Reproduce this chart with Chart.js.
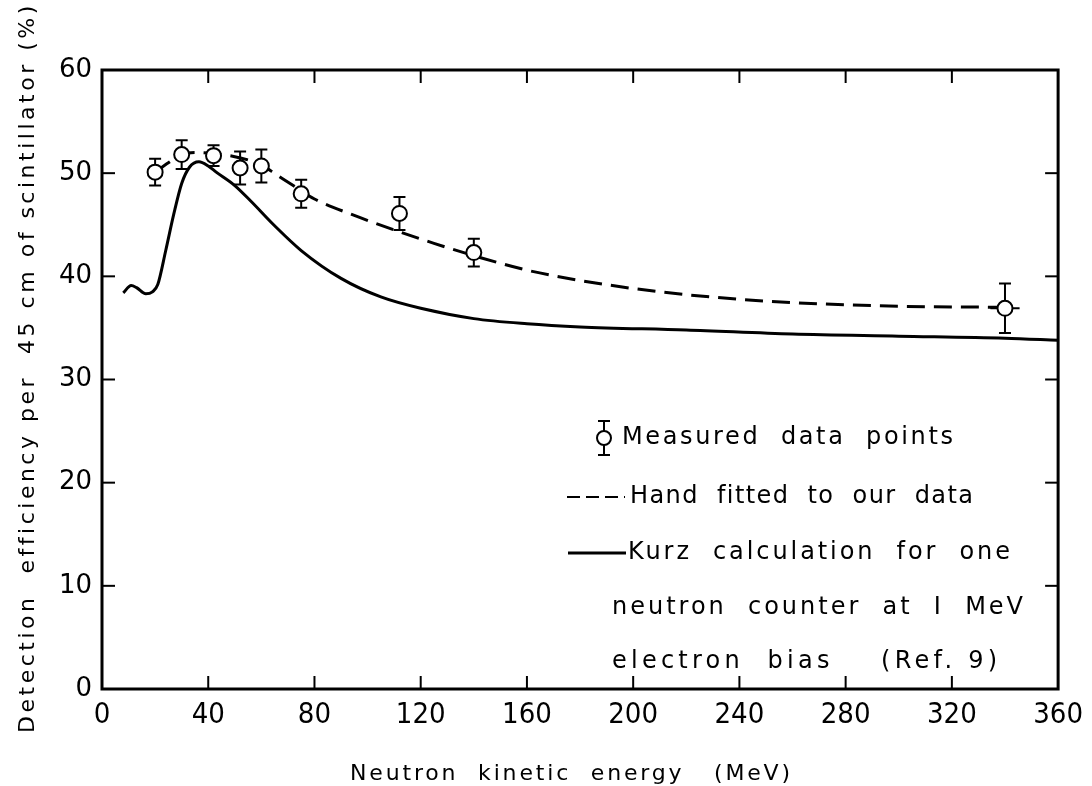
<!DOCTYPE html>
<html>
<head>
<meta charset="utf-8">
<script src="https://cdn.jsdelivr.net/npm/chart.js@4.4.1/dist/chart.umd.min.js"></script>
<style>
  html, body { margin: 0; padding: 0; background: #fff; }
  #wrap { width: 1092px; height: 786px; position: relative; }
</style>
</head>
<body>
<div id="wrap"><canvas id="c" width="1092" height="786"></canvas></div>
<script>
// ---- Data ----
const xTicks = [0, 40, 80, 120, 160, 200, 240, 280, 320, 360];
const yTicks = [0, 10, 20, 30, 40, 50, 60];

const measuredEnergy     = [20, 30, 42, 52, 60, 75, 112, 140, 340];
const measuredEfficiency = [50.1, 51.8, 51.7, 50.5, 50.7, 48.0, 46.1, 42.3, 36.9];
const measuredError      = [1.3, 1.4, 1.0, 1.6, 1.6, 1.35, 1.6, 1.35, 2.4];
const measuredEnergyErr  = [0, 0, 0, 0, 0, 0, 0, 0, 5.5];

const fitEnergy     = [20, 25, 30, 35, 42, 50, 56, 60, 66, 72, 80, 95, 110, 125, 140, 160, 180, 210, 250, 300, 340];
const fitEfficiency = [50.1, 51.0, 51.8, 52.0, 51.9, 51.6, 51.2, 50.8, 49.8, 48.8, 47.5, 45.9, 44.5, 43.2, 42.0, 40.6, 39.6, 38.5, 37.6, 37.1, 37.0];

const kurzEnergy     = [8, 11, 13, 16.5, 19, 21, 24, 27, 30, 33, 36.5, 40, 43, 50, 56, 65, 75, 90, 105, 120, 140, 160, 180, 220, 260, 300, 340, 360];
const kurzEfficiency = [38.4, 39.1, 38.9, 38.3, 38.5, 39.2, 42.5, 46.0, 49.0, 50.6, 51.1, 50.7, 50.1, 48.8, 47.3, 44.9, 42.5, 39.8, 38.0, 36.9, 35.9, 35.4, 35.1, 34.8, 34.4, 34.2, 34.0, 33.8];

const xTitle = 'Neutron  kinetic  energy   (MeV)';
const yTitle = 'Detection  efficiency per  45 cm of scintillator (%)';
const legendLines = [
  'Measured  data  points',
  'Hand  fitted  to  our  data',
  'Kurz  calculation  for  one',
  'neutron  counter  at  I  MeV',
  'electron  bias    (Ref. 9)'
];

const zip = (xs, ys) => xs.map((x, i) => ({ x: x, y: ys[i] }));

// draw text stretched (letter-spaced) to a given span
function fitText(ctx, text, x0, x1, y) {
  ctx.letterSpacing = '0px';
  const w = ctx.measureText(text).width;
  const sp = (x1 - x0 - w) / Math.max(1, text.length - 1);
  ctx.letterSpacing = sp.toFixed(2) + 'px';
  ctx.textAlign = 'left';
  ctx.fillText(text, x0, y);
  ctx.letterSpacing = '0px';
}

const decor = {
  id: 'decor',
  beforeDraw(chart) {
    const ctx = chart.ctx;
    ctx.save();
    ctx.fillStyle = '#fff';
    ctx.fillRect(0, 0, chart.width, chart.height);
    ctx.restore();
  },
  afterDatasetsDraw(chart) {
    const ctx = chart.ctx;
    const xs = chart.scales.x, ys = chart.scales.y;
    const a = chart.chartArea;
    ctx.save();
    ctx.strokeStyle = '#000';
    ctx.fillStyle = '#000';
    // frame
    ctx.lineWidth = 3;
    ctx.strokeRect(a.left, a.top, a.right - a.left, a.bottom - a.top);
    // inward ticks on all four sides
    ctx.lineWidth = 2;
    const tl = 13;
    xTicks.forEach(v => {
      if (v === 0 || v === 360) return;
      const px = xs.getPixelForValue(v);
      ctx.beginPath(); ctx.moveTo(px, a.bottom); ctx.lineTo(px, a.bottom - tl); ctx.stroke();
      ctx.beginPath(); ctx.moveTo(px, a.top); ctx.lineTo(px, a.top + tl); ctx.stroke();
    });
    yTicks.forEach(v => {
      if (v === 0 || v === 60) return;
      const py = ys.getPixelForValue(v);
      ctx.beginPath(); ctx.moveTo(a.left, py); ctx.lineTo(a.left + tl, py); ctx.stroke();
      ctx.beginPath(); ctx.moveTo(a.right, py); ctx.lineTo(a.right - tl, py); ctx.stroke();
    });
    // error bars (outside the open circles)
    const r = 7.5, cap = 6;
    ctx.lineWidth = 2;
    measuredEnergy.forEach((e, i) => {
      const px = xs.getPixelForValue(e);
      const py = ys.getPixelForValue(measuredEfficiency[i]);
      const top = ys.getPixelForValue(measuredEfficiency[i] + measuredError[i]);
      const bot = ys.getPixelForValue(measuredEfficiency[i] - measuredError[i]);
      ctx.beginPath();
      ctx.moveTo(px, top); ctx.lineTo(px, py - r);
      ctx.moveTo(px, py + r); ctx.lineTo(px, bot);
      ctx.moveTo(px - cap, top); ctx.lineTo(px + cap, top);
      ctx.moveTo(px - cap, bot); ctx.lineTo(px + cap, bot);
      ctx.stroke();
      if (measuredEnergyErr[i] > 0) {
        const l = xs.getPixelForValue(e - measuredEnergyErr[i]);
        const rr = xs.getPixelForValue(e + measuredEnergyErr[i]);
        ctx.beginPath();
        ctx.moveTo(l, py); ctx.lineTo(px - r, py);
        ctx.moveTo(px + r, py); ctx.lineTo(rr, py);
        ctx.stroke();
      }
    });
    // legend
    const lx = 604;
    ctx.lineWidth = 2;
    ctx.beginPath(); ctx.arc(lx, 438, 7, 0, Math.PI * 2); ctx.stroke();
    ctx.beginPath();
    ctx.moveTo(lx, 421); ctx.lineTo(lx, 431);
    ctx.moveTo(lx, 445); ctx.lineTo(lx, 455);
    ctx.moveTo(lx - 6, 421); ctx.lineTo(lx + 6, 421);
    ctx.moveTo(lx - 6, 455); ctx.lineTo(lx + 6, 455);
    ctx.stroke();
    ctx.lineWidth = 2;
    ctx.setLineDash([13, 6]);
    ctx.beginPath(); ctx.moveTo(567, 497); ctx.lineTo(625, 497); ctx.stroke();
    ctx.setLineDash([]);
    ctx.lineWidth = 3;
    ctx.beginPath(); ctx.moveTo(568, 553); ctx.lineTo(626, 553); ctx.stroke();

    ctx.font = '24px "DejaVu Sans"';
    ctx.textBaseline = 'middle';
    const ly = [438, 497, 553, 608, 662];
    const spans = [[622, 953], [630, 973], [628, 1010], [612, 1023], [612, 997]];
    legendLines.forEach((t, i) => fitText(ctx, t, spans[i][0], spans[i][1], ly[i]));

    // axis titles
    ctx.font = '22px "DejaVu Sans"';
    fitText(ctx, xTitle, 350, 790, 774);
    ctx.save();
    ctx.translate(28, 0);
    ctx.rotate(-Math.PI / 2);
    fitText(ctx, yTitle, -733, -6, 0);
    ctx.restore();
    ctx.restore();
  }
};

new Chart(document.getElementById('c'), {
  type: 'scatter',
  data: {
    datasets: [
      {
        label: 'Measured data points',
        data: zip(measuredEnergy, measuredEfficiency),
        showLine: false,
        pointStyle: 'circle',
        pointRadius: 7.5,
        pointBackgroundColor: '#fff',
        pointBorderColor: '#000',
        pointBorderWidth: 2
      },
      {
        label: 'Hand fitted to our data',
        data: zip(fitEnergy, fitEfficiency),
        showLine: true,
        borderColor: '#000',
        borderWidth: 3,
        borderDash: [18, 9],
        pointRadius: 0,
        cubicInterpolationMode: 'monotone',
        fill: false
      },
      {
        label: 'Kurz calculation',
        data: zip(kurzEnergy, kurzEfficiency),
        showLine: true,
        borderColor: '#000',
        borderWidth: 3,
        pointRadius: 0,
        cubicInterpolationMode: 'monotone',
        fill: false
      }
    ]
  },
  options: {
    responsive: false,
    animation: false,
    devicePixelRatio: 1,
    layout: { padding: { top: 70, right: 32, left: 0, bottom: 0 } },
    plugins: { legend: { display: false }, tooltip: { enabled: false } },
    scales: {
      x: {
        type: 'linear', min: 0, max: 360,
        afterFit(s) { s.height = 97; },
        afterBuildTicks(s) { s.ticks = xTicks.map(v => ({ value: v })); },
        grid: { display: false, drawTicks: false },
        border: { display: false },
        ticks: {
          color: '#000', padding: 9, maxRotation: 0, autoSkip: false,
          font: { family: '"Liberation Sans Narrow", "DejaVu Sans Condensed", "Liberation Sans"', size: 29 }
        }
      },
      y: {
        type: 'linear', min: 0, max: 60,
        afterFit(s) { s.width = 102; },
        afterBuildTicks(s) { s.ticks = yTicks.map(v => ({ value: v })); },
        grid: { display: false, drawTicks: false },
        border: { display: false },
        ticks: {
          color: '#000', padding: 10, autoSkip: false,
          font: { family: '"DejaVu Sans"', size: 26 }
        }
      }
    }
  },
  plugins: [decor]
});
</script>
</body>
</html>
